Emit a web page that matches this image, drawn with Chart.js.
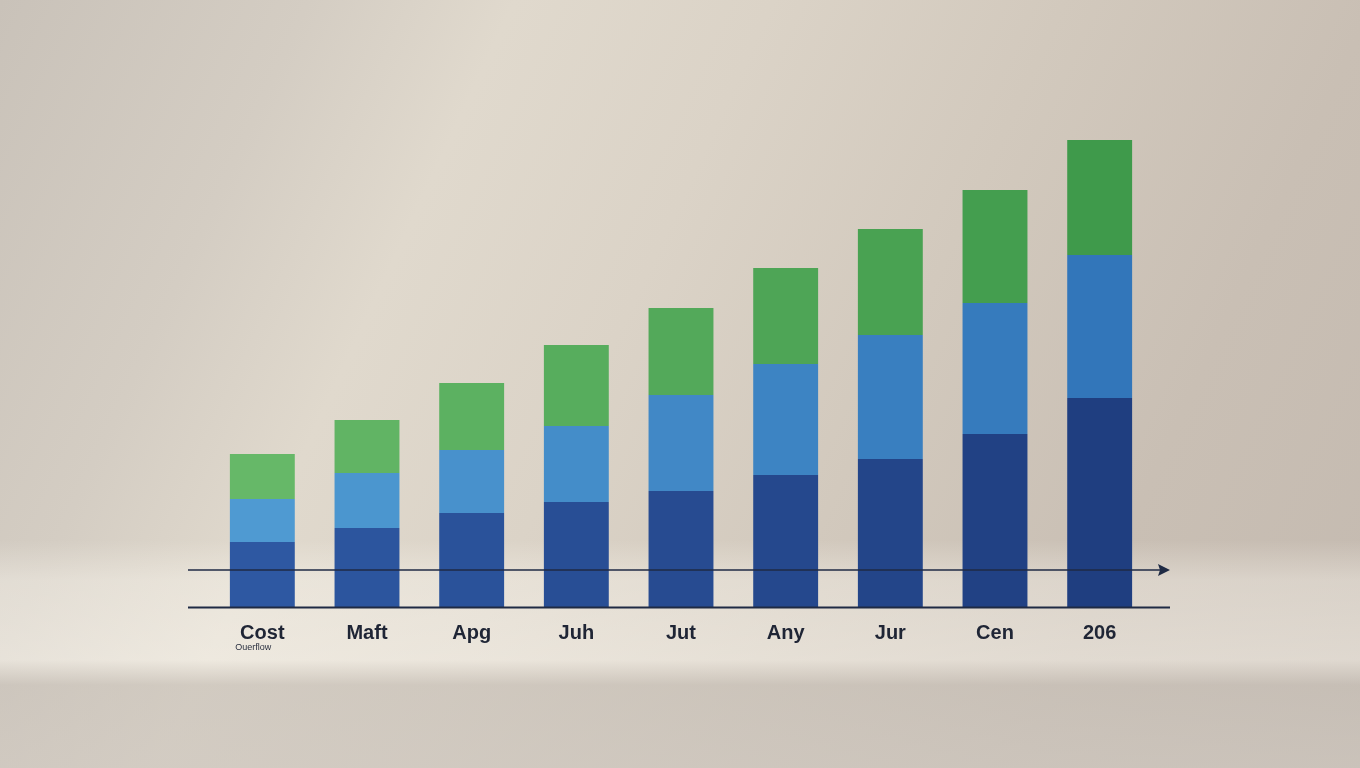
<!DOCTYPE html>
<html><head><meta charset="utf-8">
<script src="https://cdn.jsdelivr.net/npm/chart.js@4/dist/chart.umd.min.js"></script>
<style>
html,body{margin:0;padding:0;width:1360px;height:768px;overflow:hidden;}
body{background:
 linear-gradient(180deg, rgba(0,0,0,0) 0px, rgba(0,0,0,0) 540px, rgba(255,252,245,0.35) 580px, rgba(255,252,245,0.45) 660px, rgba(200,193,185,0.6) 685px, rgba(205,198,190,0.7) 768px),
 linear-gradient(115deg, #c9c2b9 0%, #d4cdc3 18%, #e0d9cd 30%, #dbd3c7 45%, #d2c9bd 62%, #c9bfb4 80%, #c4bab0 100%);}
canvas{display:block;}
</style></head>
<body>
<canvas id="c" width="1360" height="768"></canvas>
<script>
const categories = ["Cost","Maft","Apg","Juh","Jut","Any","Jur","Cen","206"];
const subLabel = "Ouerflow";
const baseSeries = [65,79,94,105,116,132,148,173,209];
const midSeries = [43,55,63,76,96,111,124,131,143];
const topSeries = [45,53,67,81,87,96,106,113,115];
const refLineValue = 37;
const yMax = 500;

function mix(a,b,t){
  const pa=[1,3,5].map(i=>parseInt(a.substr(i,2),16));
  const pb=[1,3,5].map(i=>parseInt(b.substr(i,2),16));
  return 'rgb('+pa.map((v,i)=>Math.round(v+(pb[i]-v)*t)).join(',')+')';
}
function grad(a,b){return categories.map((_,i)=>mix(a,b,i/(categories.length-1)));}

const overlay = {
  id:'overlay',
  afterDatasetsDraw(chart){
    const ctx=chart.ctx, y=chart.scales.y, x=chart.scales.x;
    const yb=y.getPixelForValue(0);
    const yr=y.getPixelForValue(refLineValue);
    ctx.save();
    ctx.strokeStyle='#1f2a44';
    ctx.lineWidth=2;
    ctx.beginPath();ctx.moveTo(188,yb+0.5);ctx.lineTo(1170,yb+0.5);ctx.stroke();
    ctx.lineWidth=1.6;
    ctx.beginPath();ctx.moveTo(188,yr);ctx.lineTo(1164,yr);ctx.stroke();
    ctx.fillStyle='#1f2a44';
    ctx.beginPath();ctx.moveTo(1170,yr);ctx.lineTo(1158,yr-6);ctx.lineTo(1160,yr);ctx.lineTo(1158,yr+6);ctx.closePath();ctx.fill();
    ctx.font='9px "Liberation Sans", Arial, sans-serif';
    ctx.fillStyle='#2a3040';
    ctx.textAlign='center';ctx.textBaseline='middle';
    ctx.fillText(subLabel, x.getPixelForValue(0)-9, 648);
    ctx.restore();
  }
};

new Chart(document.getElementById('c'),{
  type:'bar',
  data:{labels:categories,datasets:[
    {label:'Base',data:baseSeries,backgroundColor:grad('#2e58a2','#1f3e80')},
    {label:'Mid',data:midSeries,backgroundColor:grad('#4f9ad2','#3276ba')},
    {label:'Top',data:topSeries,backgroundColor:grad('#66b868','#3f9a4b')}
  ]},
  options:{
    responsive:false,animation:false,
    layout:{padding:{left:210,right:208,top:107,bottom:109}},
    plugins:{legend:{display:false},tooltip:{enabled:false}},
    datasets:{bar:{categoryPercentage:1,barPercentage:0.62}},
    scales:{
      x:{stacked:true,grid:{display:false,drawTicks:false},border:{display:false},
        ticks:{padding:14,color:'#1f2535',font:{family:'"Liberation Sans", Arial, sans-serif',size:20,weight:'bold'}}},
      y:{stacked:true,display:false,min:0,max:yMax}
    }
  },
  plugins:[overlay]
});
</script>
</body></html>
